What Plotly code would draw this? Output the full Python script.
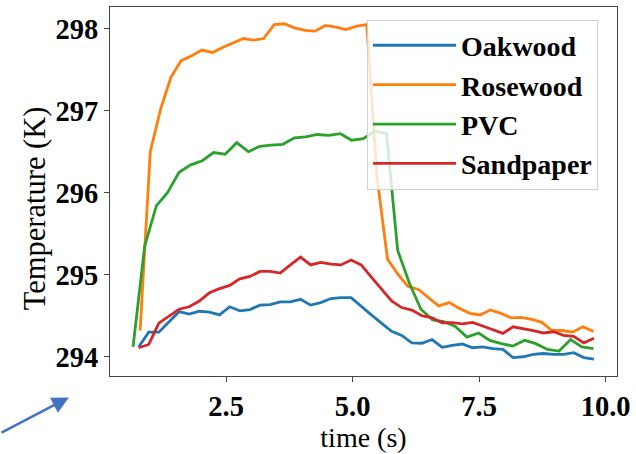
import plotly.graph_objects as go

# Time stamps (s) for each sensor record
t_oak = [0.77, 0.97, 1.17, 1.37, 1.57, 1.77, 1.97, 2.17, 2.37, 2.57, 2.77, 2.97, 3.17, 3.37, 3.57,
         3.77, 3.97, 4.17, 4.37, 4.57, 4.77, 4.97, 5.17, 5.37, 5.57, 5.77, 5.97, 6.17, 6.37, 6.57,
         6.77, 6.97, 7.17, 7.37, 7.57, 7.77, 7.97, 8.17, 8.37, 8.57, 8.77, 8.97, 9.17, 9.37, 9.57, 9.77]
t_sand = list(t_oak)
t_rose = [0.80, 1.00, 1.21, 1.41, 1.61, 1.82, 2.02, 2.23, 2.43, 2.63, 2.84, 3.04, 3.24, 3.45, 3.65,
          3.85, 4.06, 4.26, 4.46, 4.67, 4.87, 5.08, 5.28, 5.48, 5.69, 5.89, 6.09, 6.30, 6.50, 6.70,
          6.91, 7.11, 7.32, 7.52, 7.72, 7.93, 8.13, 8.33, 8.54, 8.74, 8.94, 9.15, 9.35, 9.55, 9.76]
t_pvc = [0.66, 0.89, 1.12, 1.34, 1.57, 1.80, 2.03, 2.25, 2.48, 2.71, 2.94, 3.16, 3.39, 3.62, 3.85,
         4.07, 4.30, 4.53, 4.76, 4.98, 5.21, 5.44, 5.67, 5.89, 6.12, 6.35, 6.58, 6.80, 7.03, 7.26,
         7.49, 7.71, 7.94, 8.17, 8.40, 8.62, 8.85, 9.08, 9.31, 9.53, 9.76]

# Temperatures (K)
T_oak = [294.12, 294.30, 294.30, 294.43, 294.55, 294.52, 294.555, 294.545, 294.51, 294.61,
         294.56, 294.575, 294.63, 294.635, 294.67, 294.67, 294.70, 294.63, 294.66, 294.71,
         294.72, 294.72, 294.61, 294.51, 294.41, 294.31, 294.26, 294.17, 294.165, 294.21,
         294.115, 294.14, 294.155, 294.11, 294.12, 294.10, 294.09, 293.99, 294.00, 294.03,
         294.04, 294.03, 294.03, 294.05, 293.99, 293.97]
T_rose = [294.32, 296.50, 297.03, 297.41, 297.61, 297.67, 297.74, 297.71, 297.77, 297.82,
          297.88, 297.86, 297.88, 298.05, 298.06, 298.01, 297.98, 297.97, 298.04, 298.02,
          297.99, 298.03, 298.05, 296.20, 295.19, 295.01, 294.86, 294.82, 294.72, 294.62,
          294.66, 294.59, 294.53, 294.51, 294.57, 294.53, 294.475, 294.48, 294.455, 294.42,
          294.32, 294.32, 294.30, 294.365, 294.31]
T_pvc = [294.12, 295.35, 295.84, 296.00, 296.25, 296.34, 296.39, 296.49, 296.47, 296.61,
         296.50, 296.565, 296.58, 296.59, 296.67, 296.68, 296.71, 296.70, 296.72, 296.64,
         296.66, 296.75, 296.72, 295.30, 294.90, 294.58, 294.45, 294.43, 294.37, 294.24,
         294.29, 294.20, 294.16, 294.13, 294.20, 294.16, 294.09, 294.07, 294.21, 294.12,
         294.10]
T_sand = [294.11, 294.15, 294.41, 294.50, 294.58, 294.61, 294.68, 294.78, 294.83, 294.87,
          294.95, 294.98, 295.04, 295.04, 295.02, 295.12, 295.215, 295.12, 295.15, 295.13,
          295.12, 295.18, 295.12, 294.97, 294.82, 294.68, 294.60, 294.57, 294.50, 294.475,
          294.415, 294.415, 294.40, 294.42, 294.375, 294.33, 294.285, 294.365, 294.345, 294.32,
          294.29, 294.305, 294.26, 294.25, 294.17, 294.225]

series = [
    ("Oakwood", t_oak, T_oak, "#1f77b4"),
    ("Rosewood", t_rose, T_rose, "#ff7f0e"),
    ("PVC", t_pvc, T_pvc, "#2ca02c"),
    ("Sandpaper", t_sand, T_sand, "#d62728"),
]

x_ticks = [2.5, 5.0, 7.5, 10.0]
x_tick_text = ["2.5", "5.0", "7.5", "10.0"]
y_ticks = [294, 295, 296, 297, 298]
y_tick_text = ["294", "295", "296", "297", "298"]

SERIF = "Liberation Serif, Times New Roman, serif"

fig = go.Figure()
for name, tx, ty, col in series:
    fig.add_trace(go.Scatter(x=tx, y=ty, mode="lines", name=name,
                             line=dict(color=col, width=2.8)))

# pad both axes by 5% of the data span
all_t = t_oak + t_rose + t_pvc + t_sand
all_T = T_oak + T_rose + T_pvc + T_sand
tmin, tmax = min(all_t), max(all_t)
Tmin, Tmax = min(all_T), max(all_T)
xpad = 0.05 * (tmax - tmin)
ypad = 0.05 * (Tmax - Tmin)

axis_common = dict(showgrid=False, zeroline=False, showline=True, mirror=True,
                   linecolor="#444444", linewidth=1.3, ticks="outside", ticklen=5,
                   tickwidth=1.2, tickcolor="#444444",
                   tickfont=dict(family=SERIF, size=28.5, color="black", weight="bold"))

fig.update_xaxes(range=[tmin - xpad, tmax + xpad], tickvals=x_ticks, ticktext=x_tick_text,
                 title=dict(text="time (s)", font=dict(family=SERIF, size=28, color="black"),
                            standoff=6),
                 **axis_common)
fig.update_yaxes(range=[Tmin - ypad, Tmax + ypad], tickvals=y_ticks, ticktext=y_tick_text,
                 **axis_common)

fig.update_layout(
    width=636, height=454,
    margin=dict(l=110, r=15, t=6, b=69),
    paper_bgcolor="white", plot_bgcolor="white",
    showlegend=True,
    legend=dict(x=0.507, y=0.966, xanchor="left", yanchor="top",
                bgcolor="rgba(255,255,255,0.8)", bordercolor="#d0d0d0", borderwidth=1,
                font=dict(family=SERIF, size=28, color="black", weight="bold"),
                itemwidth=83),
    annotations=[
        # y-axis label
        dict(xref="paper", yref="paper", x=-0.149, y=0.456, xanchor="center", yanchor="middle",
             text="Temperature (K)", textangle=-90, showarrow=False,
             font=dict(family=SERIF, size=30.5, color="black")),
        # pointer arrow in the lower-left corner
        dict(xref="paper", yref="paper", x=-0.081, y=-0.058,
             ax=-76, ay=36, axref="pixel", ayref="pixel",
             showarrow=True, arrowhead=2, arrowsize=1.3, arrowwidth=2.6,
             arrowcolor="#4472c4", text=""),
    ],
)

fig.write_html("out.html")
